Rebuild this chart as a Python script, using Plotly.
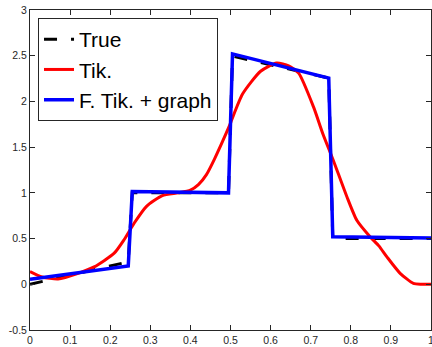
import plotly.graph_objects as go

# True solution (piecewise linear, sampled on a 0.01 grid around the jumps)
true_x = [0.0, 0.245, 0.255, 0.495, 0.505, 0.745, 0.755, 1.0]
true_y = [0.0, 0.245, 1.0, 1.0, 2.495, 2.255, 0.5, 0.5]

# Tikhonov reconstruction (smooth)
tik_x = [0.0, 0.03, 0.07, 0.12, 0.16, 0.21, 0.235, 0.26, 0.29, 0.33, 0.37, 0.40,
         0.42, 0.44, 0.46, 0.495, 0.53, 0.575, 0.615, 0.645, 0.67, 0.707, 0.73,
         0.756, 0.79, 0.815, 0.848, 0.87, 0.89, 0.923, 0.956, 0.975, 1.0]
tik_y = [0.14, 0.08, 0.058, 0.12, 0.19, 0.34, 0.49, 0.67, 0.85, 0.97, 1.0, 1.03,
         1.09, 1.2, 1.37, 1.71, 2.08, 2.33, 2.42, 2.39, 2.31, 1.94, 1.65,
         1.36, 0.96, 0.70, 0.52, 0.42, 0.30, 0.12, 0.01, 0.0, 0.0]

# Fractional Tikhonov + graph reconstruction
ftg_x = [0.0, 0.245, 0.255, 0.495, 0.505, 0.745, 0.755, 1.0]
ftg_y = [0.055, 0.2, 1.015, 1.0, 2.52, 2.255, 0.52, 0.505]

x_ticks = [0, 0.1, 0.2, 0.3, 0.4, 0.5, 0.6, 0.7, 0.8, 0.9, 1]
x_labels = ["0", "0.1", "0.2", "0.3", "0.4", "0.5", "0.6", "0.7", "0.8", "0.9", "1"]
y_ticks = [-0.5, 0, 0.5, 1, 1.5, 2, 2.5, 3]
y_labels = ["-0.5", "0", "0.5", "1", "1.5", "2", "2.5", "3"]

fig = go.Figure()
fig.add_trace(go.Scatter(x=true_x, y=true_y, mode="lines", name="True",
                         line=dict(color="black", width=3, dash="13px,14px")))
fig.add_trace(go.Scatter(x=tik_x, y=tik_y, mode="lines", name="Tik.",
                         line=dict(color="#ff0000", width=3, shape="spline", smoothing=0.6)))
fig.add_trace(go.Scatter(x=ftg_x, y=ftg_y, mode="lines", name="F. Tik. + graph",
                         line=dict(color="#0000ff", width=3.5)))

axis_common = dict(showline=True, mirror="ticks", linecolor="#262626", linewidth=1,
                   ticks="inside", ticklen=5, tickcolor="#262626", tickwidth=1,
                   showgrid=False, zeroline=False, ticklabeloverflow="allow",
                   automargin=False,
                   tickfont=dict(family="Liberation Sans, Arial, sans-serif", size=10.5, color="#262626"))

fig.update_xaxes(range=[0, 1], tickvals=x_ticks, ticktext=x_labels, **axis_common)
fig.update_yaxes(range=[-0.5, 3], tickvals=y_ticks, ticktext=y_labels, **axis_common)

fig.update_layout(
    width=432, height=347,
    margin=dict(l=30, r=1, t=10, b=17),
    plot_bgcolor="white", paper_bgcolor="white",
    font=dict(family="Liberation Sans, Arial, sans-serif"),
    legend=dict(x=0.02, y=0.975, xanchor="left", yanchor="top",
                bgcolor="white", bordercolor="#262626", borderwidth=1,
                font=dict(size=21, color="black"),
                tracegroupgap=0),
)

pin_to_corner = (
    "document.documentElement.style.margin='0';"
    "document.body.style.margin='0';"
    "document.body.style.overflow='hidden';"
    "var gd=document.querySelector('.plotly-graph-div');"
    "gd.style.position='fixed';gd.style.left='0px';gd.style.top='0px';"
    "window.scrollTo(0,0);"
)

fig.write_html("out.html", config={"displayModeBar": False}, post_script=pin_to_corner)
